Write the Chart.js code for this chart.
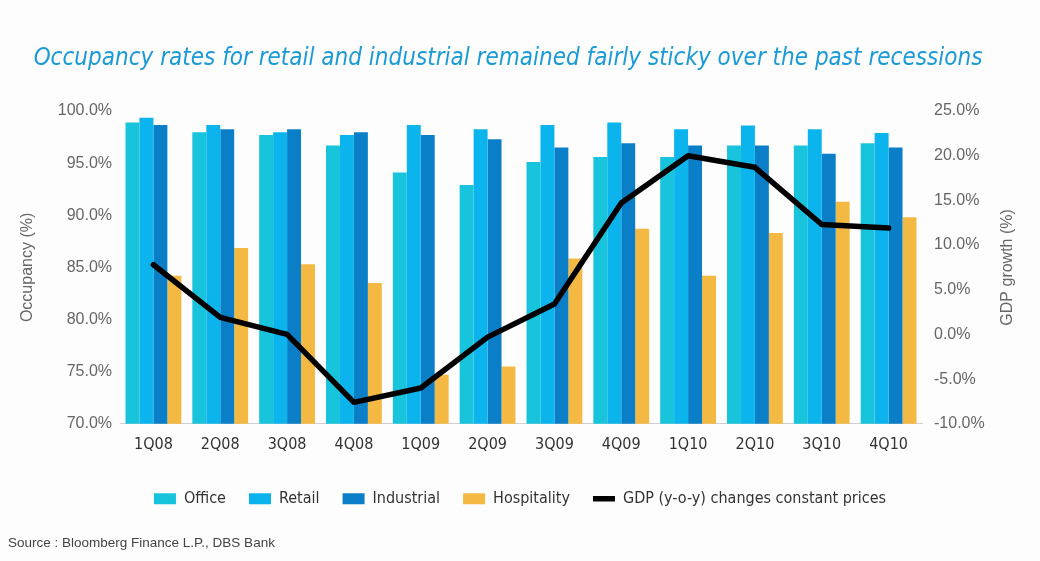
<!DOCTYPE html>
<html lang="en">
<head>
  <meta charset="UTF-8" />
  <title>Occupancy rates</title>
  <script src="https://cdn.jsdelivr.net/npm/chart.js"></script>
  <style>
    body { margin: 0; background: #fdfdfd; }
    canvas { display: block; }
  </style>
</head>
<body>
  <canvas id="occupancyChart" width="1040" height="561"></canvas>

  <script>
    const quarters = ['1Q08', '2Q08', '3Q08', '4Q08', '1Q09', '2Q09', '3Q09', '4Q09', '1Q10', '2Q10', '3Q10', '4Q10'];
    const office = [98.9, 97.95, 97.7, 96.7, 94.1, 92.9, 95.1, 95.6, 95.6, 96.7, 96.7, 96.9];
    const retail = [99.35, 98.65, 97.95, 97.7, 98.65, 98.25, 98.65, 98.9, 98.25, 98.6, 98.25, 97.9];
    const industrial = [98.65, 98.25, 98.25, 97.95, 97.7, 97.3, 96.5, 96.9, 96.7, 96.7, 95.9, 96.5];
    const hospitality = [84.2, 86.85, 85.3, 83.5, 74.7, 75.5, 85.85, 88.7, 84.2, 88.3, 91.3, 89.8];
    const gdp = [7.8, 1.9, 0.0, -7.6, -6.0, -0.3, 3.4, 14.7, 20.0, 18.7, 12.3, 11.9];

    const chartTitle = 'Occupancy rates for retail and industrial remained fairly sticky over the past recessions';
    const gdpAxisTitle = 'GDP growth (%)';

    const narrow = "'Liberation Sans Narrow', 'DejaVu Sans Condensed', sans-serif";
    const light = "'Liberation Sans', 'Noto Sans', sans-serif";
    const pct = v => v.toFixed(1) + '%';

    function barSet(label, data, color) {
      return {
        type: 'bar',
        label: label,
        data: data,
        backgroundColor: color,
        borderWidth: 0,
        yAxisID: 'y',
        order: 1,
        pointStyle: 'rect'
      };
    }

    // heading and right axis title (reads bottom-to-top like the left one)
    const extraText = {
      id: 'extraText',
      afterDraw(chart) {
        const c = chart.ctx;
        c.save();
        c.fillStyle = '#1a9ad6';
        c.font = 'italic 24px ' + narrow;
        c.textAlign = 'center';
        c.textBaseline = 'middle';
        c.fillText(chartTitle, 508, 59);

        const y1 = chart.scales.y1;
        c.fillStyle = '#666';
        c.font = '16px ' + light;
        c.translate(1008, (y1.top + y1.bottom) / 2);
        c.rotate(-Math.PI / 2);
        c.fillText(gdpAxisTitle, 0, 0);
        c.restore();
      }
    };

    const ctx = document.getElementById('occupancyChart').getContext('2d');
    new Chart(ctx, {
      data: {
        labels: quarters,
        datasets: [
          barSet('Office', office, '#17c4dc'),
          barSet('Retail', retail, '#0bb4ec'),
          barSet('Industrial', industrial, '#0a7fc7'),
          barSet('Hospitality', hospitality, '#f4b942'),
          {
            type: 'line',
            label: 'GDP (y-o-y) changes constant prices',
            data: gdp,
            borderColor: '#000',
            backgroundColor: '#000',
            borderWidth: 5.5,
            borderCapStyle: 'round',
            borderJoinStyle: 'round',
            pointRadius: 0,
            tension: 0,
            yAxisID: 'y1',
            order: 0,
            pointStyle: 'line'
          }
        ]
      },
      plugins: [extraText],
      options: {
        responsive: false,
        animation: false,
        categoryPercentage: 0.835,
        barPercentage: 1.0,
        layout: { padding: { left: 8, right: 8, top: 111, bottom: 0 } },
        plugins: {
          subtitle: {
            display: true,
            position: 'bottom',
            align: 'start',
            text: 'Source : Bloomberg Finance L.P., DBS Bank',
            color: '#444',
            font: { family: light, size: 13.5 },
            padding: { top: 18, bottom: 10 }
          },
          legend: {
            position: 'bottom',
            labels: {
              usePointStyle: true,
              boxHeight: 11,
              pointStyleWidth: 22,
              padding: 23,
              color: '#333',
              font: { family: narrow, size: 16 },
              sort: (a, b) => a.datasetIndex - b.datasetIndex
            }
          },
          tooltip: { enabled: false }
        },
        scales: {
          x: {
            grid: { display: false, drawTicks: false },
            border: { color: '#cfcfcf', width: 1 },
            ticks: {
              color: '#333',
              padding: 11,
              font: { family: narrow, size: 16 }
            },
            afterFit: s => { s.height = 44; }
          },
          y: {
            position: 'left',
            min: 70,
            max: 100,
            grid: { display: false, drawTicks: false },
            border: { display: false },
            ticks: {
              stepSize: 5,
              padding: 8,
              color: '#666',
              font: { family: light, size: 16 },
              callback: v => pct(v)
            },
            title: {
              display: true,
              text: 'Occupancy (%)',
              color: '#666',
              font: { family: light, size: 16 },
              padding: { top: 10, bottom: 0 }
            },
            afterFit: s => { s.width = 112; }
          },
          y1: {
            position: 'right',
            min: -10,
            max: 25,
            grid: { display: false, drawTicks: false },
            border: { display: false },
            ticks: {
              stepSize: 5,
              padding: 12,
              color: '#666',
              font: { family: light, size: 16 },
              callback: v => pct(v)
            },
            afterFit: s => { s.width = 110; }
          }
        }
      }
    });
  </script>
</body>
</html>
